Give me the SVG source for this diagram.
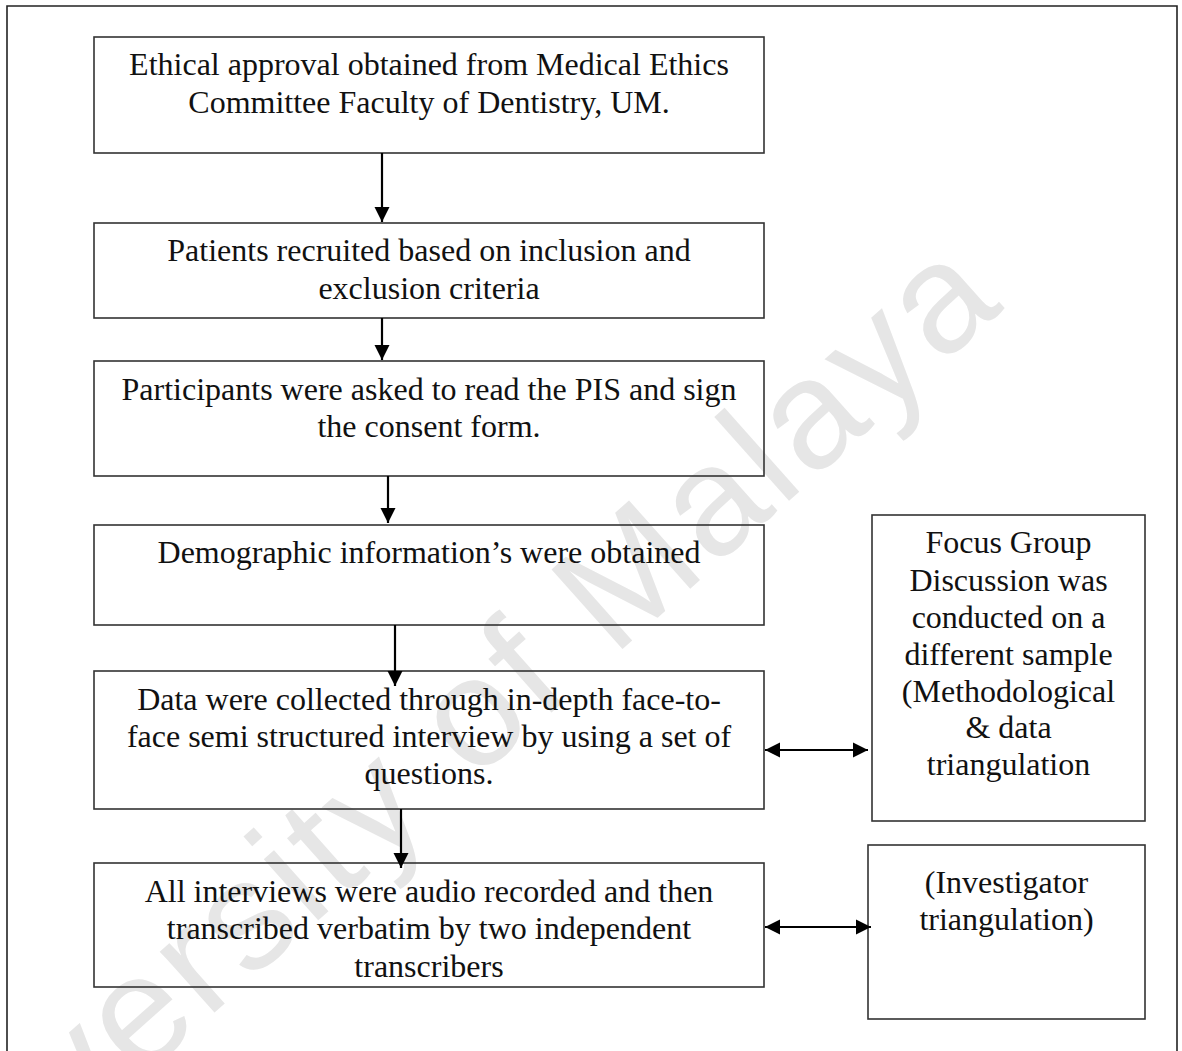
<svg xmlns="http://www.w3.org/2000/svg" width="1182" height="1051" viewBox="0 0 1182 1051">
  <style>
    .box { fill: none; stroke: #333; stroke-width: 1.6; }
    .frame { fill: none; stroke: #222; stroke-width: 1.6; }
    .lbl { font-family: "Liberation Serif", "Times New Roman", serif; font-size: 32px; fill: #111; text-anchor: middle; }
    .wm { font-family: "Liberation Sans", Arial, sans-serif; font-size: 155px; letter-spacing: 5px; fill: #e6e6e6; }
    .conn { stroke: #000; stroke-width: 2.2; fill: none; }
  </style>
  <defs>
    <marker id="head" viewBox="0 0 10 10" refX="10" refY="5" markerWidth="7" markerHeight="7" orient="auto-start-reverse" markerUnits="strokeWidth">
      <path d="M0,0 L10,5 L0,10 z" fill="#000"/>
    </marker>
  </defs>

  <rect width="1182" height="1051" fill="#fff"/>

  <!-- watermark -->
  <text class="wm" transform="translate(-108,1300) rotate(-41.7)">University of Malaya</text>

  <!-- outer frame (open at the bottom) -->
  <path class="frame" d="M7,1051 V6 H1177 V1051"/>

  <g id="node-ethics">
    <rect class="box" x="94" y="37" width="670" height="116"/>
    <text class="lbl" x="429" y="75">Ethical approval obtained from Medical Ethics</text>
    <text class="lbl" x="429" y="113">Committee Faculty of Dentistry, UM.</text>
  </g>

  <g id="node-recruit">
    <rect class="box" x="94" y="223" width="670" height="95"/>
    <text class="lbl" x="429" y="261">Patients recruited based on inclusion and</text>
    <text class="lbl" x="429" y="299">exclusion criteria</text>
  </g>

  <g id="node-consent">
    <rect class="box" x="94" y="361" width="670" height="115"/>
    <text class="lbl" x="429" y="400">Participants were asked to read the PIS and sign</text>
    <text class="lbl" x="429" y="437">the consent form.</text>
  </g>

  <g id="node-demographic">
    <rect class="box" x="94" y="525" width="670" height="100"/>
    <text class="lbl" x="429" y="563">Demographic information’s were obtained</text>
  </g>

  <g id="node-interview">
    <rect class="box" x="94" y="671" width="670" height="138"/>
    <text class="lbl" x="429" y="710">Data were collected through in-depth face-to-</text>
    <text class="lbl" x="429" y="747">face semi structured interview by using a set of</text>
    <text class="lbl" x="429" y="784">questions.</text>
  </g>

  <g id="node-transcribe">
    <rect class="box" x="94" y="863" width="670" height="124"/>
    <text class="lbl" x="429" y="902">All interviews were audio recorded and then</text>
    <text class="lbl" x="429" y="939">transcribed verbatim by two independent</text>
    <text class="lbl" x="429" y="977">transcribers</text>
  </g>

  <g id="node-focus-group">
    <rect class="box" x="872" y="515" width="273" height="306"/>
    <text class="lbl" x="1008.5" y="553">Focus Group</text>
    <text class="lbl" x="1008.5" y="591">Discussion was</text>
    <text class="lbl" x="1008.5" y="628">conducted on a</text>
    <text class="lbl" x="1008.5" y="665">different sample</text>
    <text class="lbl" x="1008.5" y="702">(Methodological</text>
    <text class="lbl" x="1008.5" y="738">&amp; data</text>
    <text class="lbl" x="1008.5" y="775">triangulation</text>
  </g>

  <g id="node-investigator">
    <rect class="box" x="868" y="845" width="277" height="174"/>
    <text class="lbl" x="1006.5" y="893">(Investigator</text>
    <text class="lbl" x="1006.5" y="930">triangulation)</text>
  </g>

  <g id="connectors">
    <line class="conn" x1="382" y1="153" x2="382" y2="222" marker-end="url(#head)"/>
    <line class="conn" x1="382" y1="318" x2="382" y2="360" marker-end="url(#head)"/>
    <line class="conn" x1="388" y1="476" x2="388" y2="523" marker-end="url(#head)"/>
    <line class="conn" x1="395" y1="625" x2="395" y2="686" marker-end="url(#head)"/>
    <line class="conn" x1="401" y1="809" x2="401" y2="868" marker-end="url(#head)"/>
    <line class="conn" x1="765" y1="750" x2="868" y2="750" marker-start="url(#head)" marker-end="url(#head)"/>
    <line class="conn" x1="765" y1="927" x2="871" y2="927" marker-start="url(#head)" marker-end="url(#head)"/>
  </g>
</svg>
